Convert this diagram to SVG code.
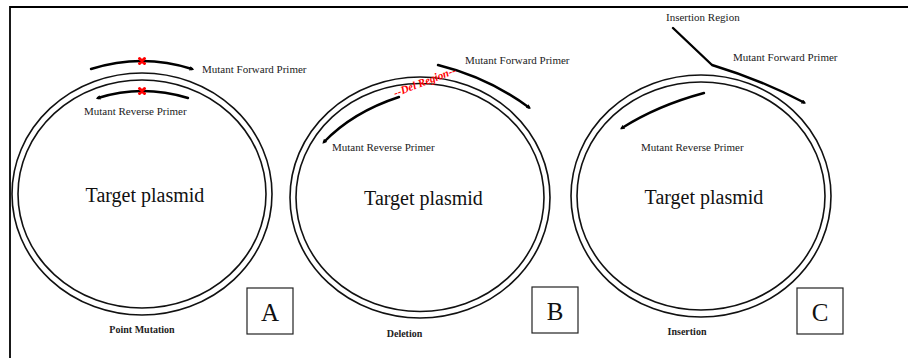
<svg xmlns="http://www.w3.org/2000/svg" width="908" height="358" viewBox="0 0 908 358">
  <style>
    .ring { fill: none; stroke: #111; stroke-width: 1.6; }
    .primer { fill: none; stroke: #000; stroke-width: 2.4; stroke-linecap: round; }
    .lbl { font-family: "Liberation Serif", "Times New Roman", serif; font-size: 11px; fill: #222; }
    .title { font-family: "Liberation Serif", "Times New Roman", serif; font-size: 20px; fill: #111; text-anchor: middle; }
    .cap { font-family: "Liberation Serif", "Times New Roman", serif; font-size: 10px; font-weight: bold; fill: #222; text-anchor: middle; }
    .tag { fill: #fff; stroke: #222; stroke-width: 1.2; }
    .tagtxt { font-family: "Liberation Serif", "Times New Roman", serif; font-size: 25px; fill: #111; text-anchor: middle; }
    .mut { stroke: #f00; stroke-width: 3; stroke-linecap: round; }
  </style>
  <defs>
    <marker id="head" viewBox="0 0 10 10" refX="5" refY="5" markerWidth="1.9" markerHeight="1.9" orient="auto" markerUnits="strokeWidth">
      <path d="M0,0 L10,5 L0,10 z" fill="#000"/>
    </marker>
  </defs>

  <rect width="908" height="358" fill="#fff"/>

  <!-- outer frame: top and left rules -->
  <g id="frame">
    <line x1="10" y1="7" x2="908" y2="7" stroke="#000" stroke-width="2.2"/>
    <line x1="10" y1="6" x2="10" y2="358" stroke="#000" stroke-width="1.8"/>
  </g>

  <!-- A: point mutation -->
  <g id="plasmid-a">
    <ellipse class="ring" cx="142" cy="194" rx="130" ry="121"/>
    <ellipse class="ring" cx="142" cy="194" rx="124" ry="114"/>
    <text class="title" x="145" y="202">Target plasmid</text>
  </g>
  <g id="primers-a">
    <path class="primer" d="M91,69 Q142,53 192,69" marker-end="url(#head)"/>
    <path class="primer" d="M188,98 Q142,84 98,98" marker-end="url(#head)"/>
    <g id="mutation-site-a">
      <path class="mut" d="M139.5,58.5 L144.5,63.5 M144.5,58.5 L139.5,63.5"/>
      <path class="mut" d="M139.5,88.5 L144.5,93.5 M144.5,88.5 L139.5,93.5"/>
    </g>
    <text class="lbl" x="202" y="73">Mutant Forward Primer</text>
    <text class="lbl" x="84" y="115">Mutant Reverse Primer</text>
  </g>
  <g id="tag-a">
    <rect class="tag" x="247" y="288" width="46" height="46"/>
    <text class="tagtxt" x="270" y="321">A</text>
  </g>
  <text class="cap" x="142" y="333">Point Mutation</text>

  <!-- B: deletion -->
  <g id="plasmid-b">
    <ellipse class="ring" cx="420" cy="197.5" rx="130" ry="120.5"/>
    <ellipse class="ring" cx="420" cy="197.5" rx="124" ry="114"/>
    <text class="title" x="423.5" y="205">Target plasmid</text>
  </g>
  <g id="primers-b">
    <path class="primer" d="M438,65 Q488.5,77.5 529,107.5" marker-end="url(#head)"/>
    <path class="primer" d="M399,97 Q353,112 324,142" marker-end="url(#head)"/>
    <text transform="translate(426,85) rotate(-21)" text-anchor="middle" font-family="Liberation Serif, Times New Roman, serif" font-size="11" font-weight="bold" font-style="italic" fill="#f00">--Del Region--</text>
    <text class="lbl" x="465" y="64">Mutant Forward Primer</text>
    <text class="lbl" x="332" y="151">Mutant Reverse Primer</text>
  </g>
  <g id="tag-b">
    <rect class="tag" x="532" y="287" width="46" height="46"/>
    <text class="tagtxt" x="555" y="320">B</text>
  </g>
  <text class="cap" x="404.5" y="337">Deletion</text>

  <!-- C: insertion -->
  <g id="plasmid-c">
    <ellipse class="ring" cx="701" cy="196" rx="130" ry="121"/>
    <ellipse class="ring" cx="701" cy="196" rx="124" ry="114"/>
    <text class="title" x="704" y="204">Target plasmid</text>
  </g>
  <g id="primers-c">
    <path class="primer" d="M673,28 L712,65 Q761.5,80 804,102.5" stroke-width="2" stroke-linejoin="round" marker-end="url(#head)"/>
    <path class="primer" d="M704,93 Q657.5,105.5 622,128" marker-end="url(#head)"/>
    <text class="lbl" x="666" y="21">Insertion Region</text>
    <text class="lbl" x="733" y="61">Mutant Forward Primer</text>
    <text class="lbl" x="641" y="151">Mutant Reverse Primer</text>
  </g>
  <g id="tag-c">
    <rect class="tag" x="797" y="288" width="46" height="46"/>
    <text class="tagtxt" x="820" y="321">C</text>
  </g>
  <text class="cap" x="687" y="335">Insertion</text>
</svg>
